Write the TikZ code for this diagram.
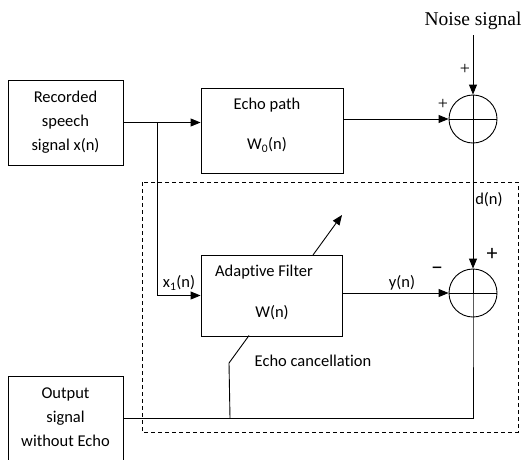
\documentclass[tikz,border=0pt]{standalone}
\usepackage{fontspec}
\setmainfont{Carlito}[Ligatures=NoCommon]
\newfontfamily\timesfont{Liberation Serif}
\usetikzlibrary{arrows.meta}
\begin{document}
\begin{tikzpicture}[x=1pt,y=-1pt]
\tikzstyle{every node}+=[inner sep=0pt]
\tikzstyle{blk}=[draw, line width=0.9pt, rectangle]
\tikzstyle{sum}=[draw, line width=0.9pt, circle, minimum size=48pt]
\tikzstyle{txt}=[font=\fontsize{16.5}{24}\selectfont, align=center]
\tikzstyle{wire}=[line width=0.9pt]
\tikzstyle{arr}=[line width=0.9pt, -{Triangle[length=10pt,width=8pt]}]
\useasboundingbox (0,0) rectangle (524,459);
% blocks
\node [blk, txt, minimum width=115pt, minimum height=85pt] (rec) at (65.5,122.5) {Recorded\\speech\\signal x(n)};
\node [blk, minimum width=142pt, minimum height=85pt] (echo) at (272,130.5) {};
\node [txt] (echot) at (267,105) {Echo path};
\node [txt] (echow) at (267,145) {W\textsubscript{0}(n)};
\node [blk, minimum width=141pt, minimum height=81pt] (adapt) at (271.5,295.5) {};
\node [txt] (adaptt) at (264,272) {Adaptive Filter};
\node [txt] (adaptw) at (272,313) {W(n)};
\node [blk, minimum width=115pt, minimum height=94pt] (out) at (65.5,423) {};
\node [txt] (outt) at (65.5,417) {Output\\signal\\without Echo};
% summing junctions
\node [sum] (s1) at (473,119) {};
\node [sum] (s2) at (473,293) {};
\draw [wire] (s1.west) -- (s1.east);
\draw [wire] (s2.west) -- (s2.east);
\node [font=\timesfont\fontsize{19.5}{22}\selectfont] (noise) at (473,21) {Noise signal};
% connections
\coordinate (br) at (157,122.5);
\draw [arr] (rec.east) -- (rec.east -| echo.west);
\draw [arr] (br) |- (adapt.west);
\draw [arr] (s1.west -| echo.east) -- (s1.west);
\draw [arr] (473,35) -- (s1.north);
\draw [arr] (s1.north) -- (s2.north);
\draw [arr] (s2.west -| adapt.east) -- (s2.west);
\coordinate (wa) at (313,255);
\coordinate (wb) at (342,215);
\draw [arr] (wa) -- (wb);
\coordinate (k1) at (249,335.5);
\coordinate (k2) at (229,363);
\coordinate (k3) at (230,418);
\draw [wire] (k1) -- (k2) -- (k3);
\draw [wire] (s2.north) -- (s2.south) |- (k3 -| out.east);
% labels
\node [font=\timesfont\fontsize{18}{18}\selectfont] (p1) at (465,69) {+};
\node [font=\timesfont\fontsize{18}{18}\selectfont] (p2) at (443,104) {+};
\node [font=\fontsize{22}{24}\selectfont] (p3) at (492,254) {+};
\node [font=\fontsize{24}{24}\selectfont] (m1) at (437,271) {\textendash};
\node [txt] (dn) at (489,200) {d(n)};
\node [txt] (yn) at (402,283) {y(n)};
\node [txt] (xn) at (179,283) {x\textsubscript{1}(n)};
\node [txt] (ec) at (313,361) {Echo cancellation};
% cancellation region
\draw [line width=0.8pt, dash pattern=on 4pt off 3pt] (142,182) rectangle (518,432);
\end{tikzpicture}
\end{document}
